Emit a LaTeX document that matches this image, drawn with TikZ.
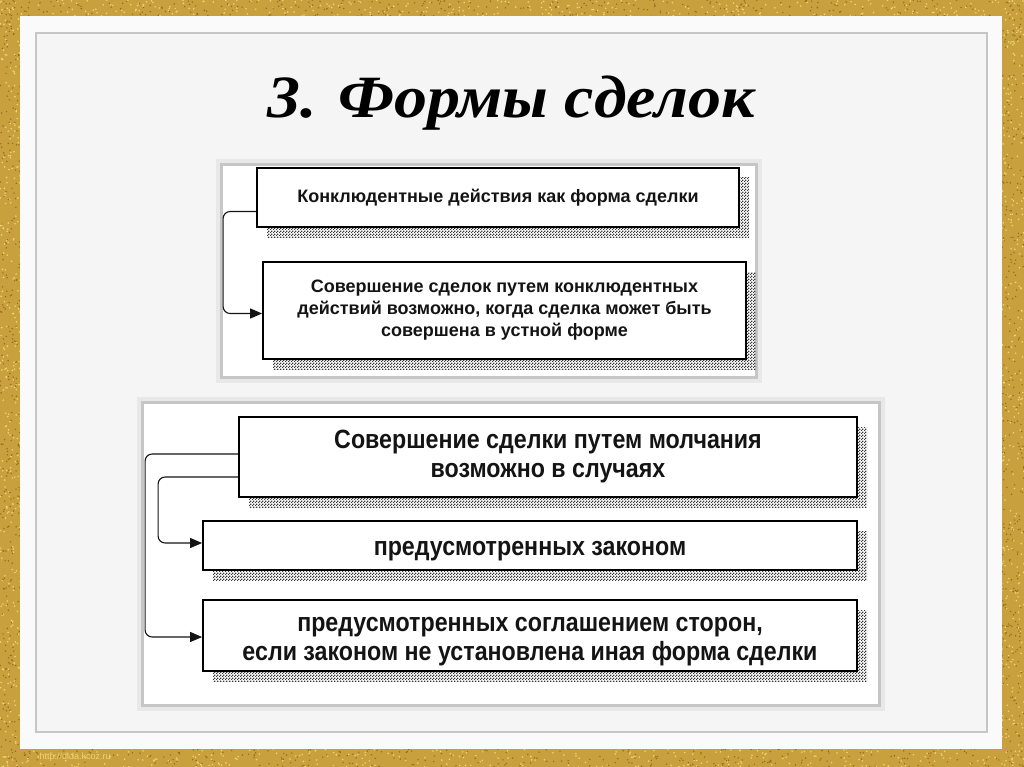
\documentclass[tikz,border=0pt]{standalone}
\usepackage{fontspec}
\setmainfont{Liberation Sans}
\newfontfamily\headfont[FakeStretch=1.1]{Liberation Serif}
\newfontfamily\boxfont[FakeStretch=0.88]{Liberation Sans}
\usetikzlibrary{positioning,calc,patterns,shadows,arrows.meta}

\definecolor{goldbase}{RGB}{200,160,62}
\definecolor{goldhi}{RGB}{238,212,118}
\definecolor{golddark}{RGB}{150,106,32}
\definecolor{slide}{RGB}{250,250,250}
\definecolor{slidein}{RGB}{245,245,245}
\definecolor{hatch}{RGB}{55,55,55}
\definecolor{ink}{RGB}{20,20,20}

% fine checker for the box shadows
\pgfdeclarepatternformonly{shadechk}{\pgfpointorigin}{\pgfpoint{3pt}{3pt}}{\pgfpoint{3pt}{3pt}}{%
  \pgfpathrectangle{\pgfpointorigin}{\pgfpoint{1.5pt}{1.5pt}}%
  \pgfpathrectangle{\pgfpoint{1.5pt}{1.5pt}}{\pgfpoint{1.5pt}{1.5pt}}%
  \pgfusepath{fill}}

\begin{document}
\begin{tikzpicture}[x=1pt,y=-1pt,
    box/.style={draw=black,line width=1.8pt,fill=white,align=center,inner sep=0pt,text=ink,
      general shadow={shadow xshift=10pt,shadow yshift=-10pt,pattern=shadechk,pattern color=hatch}},
    smallbox/.style={box,font=\bfseries\fontsize{18}{22}\selectfont},
    bigbox/.style={box,font=\boxfont\bfseries\fontsize{26.4}{29}\selectfont},
    link/.style={draw=ink,line width=1.1pt,rounded corners=7pt,-{Triangle[length=12pt,width=10pt]}},
    panel/.style={fill=white,draw=gray!45,line width=3pt,preaction={draw=gray!18,line width=11pt}}]
  \useasboundingbox (0,0) rectangle (1024,767);

  % gold frame
  \fill[goldbase] (0,0) rectangle (1024,767);
  \pgfmathsetseed{7}
  \foreach \xa/\ya/\w/\h in {0/0/1024/17, 0/748/1024/19, 0/0/21/767, 1001/0/23/767} {
    \foreach \i in {1,...,300} {
      \fill[goldhi] ({\xa+rnd*\w},{\ya+rnd*\h}) circle (0.9);
      \fill[golddark] ({\xa+rnd*\w},{\ya+rnd*\h}) circle (0.8);
    }
  }
  \node[anchor=west,font=\fontsize{9}{9}\selectfont,text=goldhi] (wm) at (36,757) {http://dida.kcoz.ru};

  % slide
  \fill[slide] (20,16) rectangle (1002,749);
  \draw[fill=slidein,draw=gray!45,line width=1.2pt] (36,33) rectangle (987,732);

  \node[anchor=base,font=\headfont\bfseries\itshape\fontsize{60}{60}\selectfont,text=black] (ttl) at (511,118) {3. Формы сделок};

  % upper group
  \draw[panel] (221,165) rectangle (756,377);
  \node[smallbox,minimum width=482pt,minimum height=59pt] (k1) at (498,197.5) {Конклюдентные действия как форма сделки};
  \node[smallbox,minimum width=483pt,minimum height=97pt] (k2) at (504.5,310.5) {Совершение сделок путем конклюдентных\\действий возможно, когда сделка может быть\\совершена в устной форме};
  \draw[link] ([yshift=-14pt]k1.west) -- ++(-33,0) |- ([yshift=-3pt]k2.west);

  % lower group
  \draw[panel] (142,402) rectangle (879,705);
  \node[bigbox,minimum width=618pt,minimum height=80pt] (m1) at (548,457) {Совершение сделки путем молчания\\возможно в случаях};
  \node[bigbox,minimum width=654pt,minimum height=49pt] (m2) at (530,545.5) {\rule{0pt}{26pt}предусмотренных законом};
  \node[bigbox,minimum width=654pt,minimum height=71pt] (m3) at (530,635.5) {\rule{0pt}{26pt}предусмотренных соглашением сторон,\\если законом не установлена иная форма сделки};

  \draw[link] ([yshift=3pt]m1.west) -- ++(-93,0) |- ([yshift=-1.5pt]m3.west);
  \draw[link] ([yshift=-20pt]m1.west) -- ++(-80,0) |- ([yshift=2.5pt]m2.west);
\end{tikzpicture}
\end{document}
